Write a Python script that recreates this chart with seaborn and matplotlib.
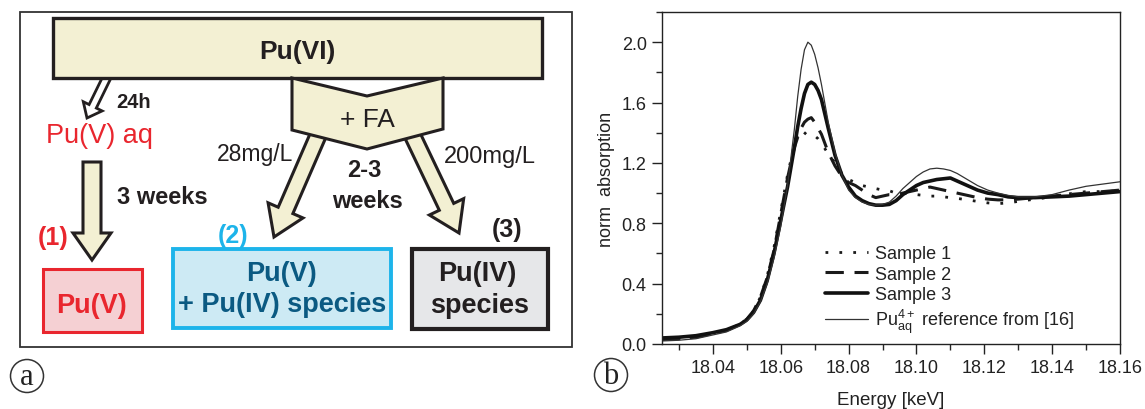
import numpy as np
import pandas as pd
import matplotlib
matplotlib.use("Agg")
import matplotlib.pyplot as plt
from matplotlib.patches import Rectangle, Polygon, FancyArrow, Circle
from matplotlib.ticker import MultipleLocator, FormatStrFormatter
import seaborn as sns

# ---------------- data (panel b) ----------------
energy = [18.025, 18.030, 18.035, 18.040, 18.044, 18.048, 18.050, 18.052, 18.054, 18.056,
          18.058, 18.060, 18.062, 18.064, 18.065, 18.066, 18.067, 18.068, 18.069, 18.070,
          18.071, 18.072, 18.074, 18.076,
          18.078, 18.080, 18.082, 18.084, 18.086, 18.088, 18.090, 18.092, 18.094, 18.096,
          18.098, 18.100, 18.102, 18.104, 18.106, 18.108, 18.110, 18.112, 18.115, 18.118,
          18.121, 18.124, 18.127, 18.130, 18.135, 18.140, 18.145, 18.150, 18.155, 18.160]

sample1 = [0.03, 0.035, 0.045, 0.07, 0.09, 0.13, 0.165, 0.22, 0.31, 0.45,
           0.64, 0.88, 1.12, 1.32, 1.39, 1.42, 1.40, 1.38, 1.38, 1.38,
           1.36, 1.33, 1.26, 1.20,
           1.13, 1.09, 1.07, 1.05, 1.04, 1.03, 1.02, 1.015, 1.00, 1.00,
           0.995, 0.99, 0.985, 0.98, 0.98, 0.975, 0.97, 0.965, 0.955, 0.945,
           0.935, 0.93, 0.935, 0.945, 0.96, 0.975, 0.995, 1.01, 1.01, 1.015]

sample2 = [0.03, 0.035, 0.045, 0.07, 0.09, 0.13, 0.165, 0.22, 0.31, 0.44,
           0.62, 0.86, 1.10, 1.30, 1.37, 1.43, 1.47, 1.49, 1.50, 1.47,
           1.43, 1.39, 1.27, 1.18,
           1.11, 1.07, 1.05, 1.02, 0.99, 0.97, 0.98, 0.99, 0.99, 1.00,
           1.01, 1.02, 1.03, 1.04, 1.03, 1.02, 1.01, 1.00, 0.985, 0.97,
           0.96, 0.955, 0.955, 0.96, 0.97, 0.98, 0.99, 1.00, 1.01, 1.02]

sample3 = [0.04, 0.045, 0.055, 0.075, 0.095, 0.13, 0.16, 0.21, 0.29, 0.42,
           0.60, 0.82, 1.04, 1.30, 1.44, 1.56, 1.66, 1.72, 1.735, 1.72,
           1.68, 1.62, 1.43, 1.25,
           1.12, 1.04, 0.98, 0.95, 0.93, 0.92, 0.92, 0.925, 0.95, 0.99,
           1.02, 1.05, 1.07, 1.08, 1.09, 1.095, 1.10, 1.08, 1.05, 1.02,
           1.00, 0.99, 0.975, 0.97, 0.97, 0.975, 0.98, 0.99, 1.00, 1.01]

reference = [0.02, 0.025, 0.035, 0.06, 0.08, 0.12, 0.15, 0.20, 0.28, 0.40,
             0.57, 0.78, 1.05, 1.42, 1.64, 1.82, 1.95, 2.00, 1.98, 1.92,
             1.83, 1.72, 1.47, 1.27,
             1.12, 1.02, 0.97, 0.94, 0.925, 0.92, 0.925, 0.94, 0.98, 1.03,
             1.07, 1.11, 1.14, 1.16, 1.165, 1.16, 1.15, 1.13, 1.09, 1.05,
             1.02, 1.00, 0.985, 0.975, 0.975, 0.99, 1.02, 1.045, 1.06, 1.075]

series_labels = ["Sample 1", "Sample 2", "Sample 3",
                 r"Pu$^{\mathrm{4+}}_{\mathrm{aq}}$ reference from [16]"]
x_ticks = [18.04, 18.06, 18.08, 18.10, 18.12, 18.14, 18.16]
y_ticks = [0.0, 0.4, 0.8, 1.2, 1.6, 2.0]

# ---------------- style ----------------
sns.set_theme(style="white")
plt.rcParams["font.family"] = ["Liberation Sans", "DejaVu Sans"]
plt.rcParams["mathtext.fontset"] = "custom"
plt.rcParams["mathtext.rm"] = "Liberation Sans"
plt.rcParams["mathtext.it"] = "Liberation Sans:italic"
plt.rcParams["mathtext.bf"] = "Liberation Sans:bold"
BFS = 13

W, H = 1145, 410
fig = plt.figure(figsize=(W / 100, H / 100), dpi=100)
fig.patch.set_facecolor("white")

# ---------------- panel a (diagram, pixel coordinates) ----------------
axd = fig.add_axes([0, 0, 1, 1], zorder=0)
axd.set_xlim(0, W)
axd.set_ylim(H, 0)
axd.axis("off")

BEIGE = "#F3F0D3"
INK = "#231F20"
RED = "#E9262E"
CYAN = "#1DB4EA"
DBLUE = "#0B5A82"

axd.add_patch(Rectangle((20, 13), 552, 335, fill=False, ec="#333333", lw=1.3, zorder=1))

axd.add_patch(FancyArrow(109, 74, 87 - 109, 119 - 74, width=8, head_width=21, head_length=13,
                         length_includes_head=True, fc="white", ec=INK, lw=2, zorder=2))
axd.add_patch(FancyArrow(92, 163, 0, 261 - 163, width=18, head_width=38, head_length=27,
                         length_includes_head=True, fc=BEIGE, ec=INK, lw=2.2, zorder=2))
axd.add_patch(FancyArrow(323, 125, 274 - 323, 238 - 125, width=16, head_width=38, head_length=29,
                         length_includes_head=True, fc=BEIGE, ec=INK, lw=2.2, zorder=3))
axd.add_patch(FancyArrow(407, 125, 459 - 407, 234 - 125, width=16, head_width=38, head_length=29,
                         length_includes_head=True, fc=BEIGE, ec=INK, lw=2.2, zorder=3))

axd.add_patch(Rectangle((53, 19), 489, 60, fc=BEIGE, ec=INK, lw=2.4, zorder=4))
axd.add_patch(Polygon([(292, 79), (367, 97), (443, 79), (443, 130), (367, 150), (292, 131)],
                      closed=True, fc=BEIGE, ec=INK, lw=2.2, zorder=4))

axd.add_patch(Rectangle((43, 270), 99, 63, fc="#F5D0D3", ec=RED, lw=2.2, zorder=4))
axd.add_patch(Rectangle((173, 250), 218, 79, fc="#CDEAF4", ec=CYAN, lw=2.8, zorder=4))
axd.add_patch(Rectangle((412, 250), 136, 80, fc="#E6E7E9", ec=INK, lw=3, zorder=4))

def label(x, y, s, size, color=INK, weight="normal", z=5):
    axd.text(x, y, s, fontsize=size, color=color, fontweight=weight,
             ha="center", va="baseline", zorder=z)

label(297, 59, "Pu(VI)", 19, weight="bold")
label(367, 127, "+ FA", 19)
label(134, 108, "24h", 14.5, weight="bold")
label(99.5, 143, "Pu(V) aq", 19.5, color=RED)
label(255, 161, "28mg/L", 16.5, z=2)
label(489.5, 163, "200mg/L", 17)
label(364, 177, "2-3", 17, weight="bold")
label(367, 208, "weeks", 17, weight="bold")
label(162.5, 204, "3 weeks", 17, weight="bold")
label(53, 245, "(1)", 18, color=RED, weight="bold")
label(233, 243, "(2)", 18, color=CYAN, weight="bold")
label(507, 237, "(3)", 18, weight="bold")
label(92, 313, "Pu(V)", 19.5, color=RED, weight="bold")
label(282, 281, "Pu(V)", 19.5, color=DBLUE, weight="bold")
label(282, 312, "+ Pu(IV) species", 19.5, color=DBLUE, weight="bold")
label(477, 281, "Pu(IV)", 19.5, weight="bold")
label(480, 313, "species", 19.5, weight="bold")

for cx, cy, ch in [(27, 377, "a"), (611, 376, "b")]:
    axd.add_patch(Circle((cx, cy), 16.5, fill=False, ec="#333333", lw=1.1, zorder=5))
    axd.text(cx, cy + 1, ch, fontsize=22, family=["Liberation Serif", "DejaVu Serif"],
             ha="center", va="center", color="#222222", zorder=6)

# ---------------- panel b (spectra) ----------------
L, R, T, B = 662, 1120, 13, 345
ax = fig.add_axes([L / W, 1 - B / H, (R - L) / W, (B - T) / H], zorder=2)

styles = [dict(color="#1a1a1a", lw=2.0, linestyle=(0, (1, 4))),
          dict(color="#1a1a1a", lw=2.2, linestyle=(0, (6, 3.5))),
          dict(color="#111111", lw=2.6, linestyle="-"),
          dict(color="#333333", lw=0.9, linestyle="-")]
for vals, lab, st in zip([sample1, sample2, sample3, reference], series_labels, styles):
    sns.lineplot(x=energy, y=vals, ax=ax, label=lab, **st)

ax.set_xlim(18.025, 18.16)
ax.set_ylim(0, 2.2)
ax.set_xticks(x_ticks)
ax.set_yticks(y_ticks)
ax.xaxis.set_minor_locator(MultipleLocator(0.01))
ax.yaxis.set_minor_locator(MultipleLocator(0.2))
ax.xaxis.set_major_formatter(FormatStrFormatter("%.2f"))
ax.yaxis.set_major_formatter(FormatStrFormatter("%.1f"))
ax.tick_params(axis="both", which="major", direction="out", length=7, width=1,
               bottom=True, left=True, top=False, right=False, labelsize=BFS,
               colors="#222222", pad=4)
ax.tick_params(axis="both", which="minor", direction="out", length=4, width=1,
               bottom=True, left=True, top=False, right=False)
for sp in ax.spines.values():
    sp.set_visible(True)
    sp.set_color("#222222")
    sp.set_linewidth(1.0)

ax.set_xlabel("Energy [keV]", fontsize=13.5, color="#222222")
ax.set_ylabel("norm  absorption", fontsize=13, color="#222222")
ax.xaxis.set_label_coords(0.5, (B - 392) / (B - T))
ax.yaxis.set_label_coords((615 - L) / (R - L), 0.5)

leg = ax.legend(loc="upper left", bbox_to_anchor=((825 - L) / (R - L), (B - 246) / (B - T)),
                frameon=False, fontsize=13, handlelength=2.4,
                handletextpad=0.35, labelspacing=0.2, borderpad=0, borderaxespad=0)
for t in leg.get_texts():
    t.set_color("#222222")

fig.savefig("out.png", dpi=100, facecolor="white")
